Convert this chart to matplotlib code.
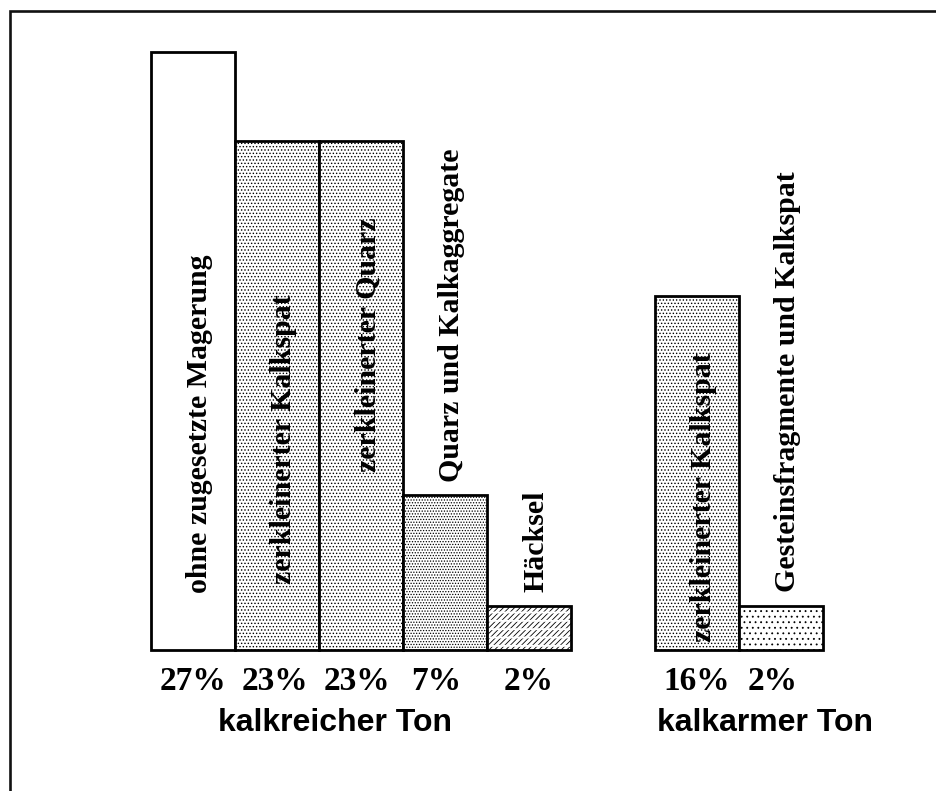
import matplotlib
matplotlib.use("Agg")
import matplotlib.pyplot as plt
from matplotlib.patches import Rectangle

# Data: share of temper types in calcareous and low-calcium clays
categories = [
    "ohne zugesetzte Magerung",
    "zerkleinerter Kalkspat",
    "zerkleinerter Quarz",
    "Quarz und Kalkaggregate",
    "Häcksel",
    "zerkleinerter Kalkspat",
    "Gesteinsfragmente und Kalkspat",
]
values = [27, 23, 23, 7, 2, 16, 2]
pct_labels = ["27%", "23%", "23%", "7%", "2%", "16%", "2%"]
groups = ["kalkreicher Ton", "kalkarmer Ton"]

# Layout / styling
positions = [0, 1, 2, 3, 4, 6, 7]
hatches = [None, ".....", ".....", "......", "//////", ".....", "..."]
label_inside = [True, True, True, False, False, True, False]
inside_center = [10.2, 9.5, 13.8, None, None, 6.9, None]  # label centre height
pct_dx = [0.0, -0.02, -0.05, -0.1, 0.0, 0.0, -0.1]
group_x = [1.69, 6.81]

W, H, DPI = 937, 791, 100
fig = plt.figure(figsize=(W / DPI, H / DPI), dpi=DPI)
plt.rcParams["hatch.linewidth"] = 0.6

# outer frame (runs off the right and bottom edges)
fig.patches.append(Rectangle((10 / W, -0.05), 1.2, 1 - 11 / H + 0.05,
                             transform=fig.transFigure, fill=False,
                             edgecolor="#111111", linewidth=1.9, zorder=0))

ax_left, ax_right = 151 / W, 823 / W
base = (H - 650) / H
top = (H - 11) / H
ax = fig.add_axes([ax_left, base, ax_right - ax_left, top - base])
scale = 22.15  # px per percent
ax.set_xlim(-0.5, 7.5)
ax.set_ylim(0, (650 - 11) / scale)
ax.axis("off")

serif = dict(family="Liberation Serif", weight="bold")

for i, (p, v, h) in enumerate(zip(positions, values, hatches)):
    if i == 4:
        # chopped straw: diagonal dashes broken up into rows
        ax.bar(p, v, width=1.0, color="white", edgecolor="black",
               hatch=h, linewidth=0, zorder=2, clip_on=False)
        plt.rcParams["hatch.linewidth"] = 1.4
        ax.bar(p, v, width=1.0, fill=False, edgecolor="white",
               hatch="--", linewidth=0, zorder=3, clip_on=False)
        plt.rcParams["hatch.linewidth"] = 0.6
        ax.bar(p, v, width=1.0, fill=False, edgecolor="black",
               linewidth=2.0, zorder=4, clip_on=False)
    else:
        ax.bar(p, v, width=1.0, color="white", edgecolor="black",
               hatch=h, linewidth=2.0, zorder=2, clip_on=False)

    if label_inside[i]:
        ax.text(p + 0.08, inside_center[i], categories[i], rotation=90,
                ha="center", va="center", fontsize=21.5, zorder=5, **serif)
    else:
        ax.text(p + 0.08, v + 0.6, categories[i], rotation=90,
                ha="center", va="bottom", fontsize=21.5, zorder=5, **serif)

    ax.text(p + pct_dx[i], -1.4, pct_labels[i], ha="center", va="center",
            fontsize=24, clip_on=False, **serif)

for gx, g in zip(group_x, groups):
    ax.text(gx, -3.3, g, ha="center", va="center", fontsize=23,
            family="Liberation Sans", weight="bold", clip_on=False)

fig.savefig("out.png", dpi=DPI)
